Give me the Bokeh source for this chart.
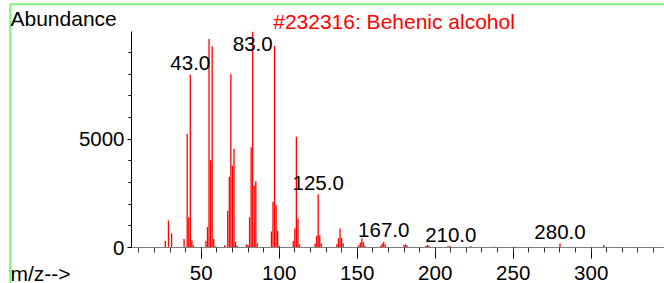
import numpy as np
from bokeh.plotting import figure
from bokeh.models import Range1d, SingleIntervalTicker
from bokeh.core.properties import value
from bokeh.embed import file_html
from bokeh.resources import INLINE

# ---- data ----
mz = [27, 29, 31, 39, 41, 42, 43, 44, 45,
      53, 54, 55, 56, 57, 58, 59,
      65, 67, 68, 69, 70, 71, 72, 73,
      79, 80, 81, 82, 83, 84, 85, 86,
      95, 96, 97, 98, 99, 100,
      109, 110, 111, 112, 113,
      123, 124, 125, 126, 127,
      137, 138, 139, 140, 141,
      151, 152, 153, 154, 155,
      165, 166, 167, 168,
      180, 181, 182,
      194, 195, 196,
      208, 209, 210,
      222, 223, 237, 238, 251, 252, 265,
      280, 308, 309]
abundance = [310, 1240, 660, 390, 5230, 1390, 7970, 330, 100,
             310, 950, 9620, 4030, 9280, 390, 60,
             100, 1690, 3260, 8000, 3770, 4550, 250, 80,
             150, 100, 1400, 4620, 9950, 2860, 3060, 200,
             740, 2110, 9300, 1950, 770, 80,
             300, 880, 5110, 1340, 150,
             190, 540, 2460, 560, 180,
             160, 430, 880, 440, 200,
             100, 230, 430, 250, 80,
             80, 190, 270, 140,
             110, 150, 90,
             70, 110, 80,
             50, 70, 50,
             40, 55, 40, 35, 30, 25, 20,
             185, 110, 30]
label_mz = [43, 83, 125, 167, 210, 280]
title_text = "#232316: Behenic alcohol"
y_title = "Abundance"
x_title = "m/z-->"

# ---- layout / style constants ----
FONT = "Liberation Sans"
W, H = 664, 283
PL, PR, PT, PB = 131, 664, 31, 247          # plot box in canvas pixels
XMIN, XMAX = 5.3, 347.0                     # data range of the plot box
YMIN, YMAX = 0.0, 9963.0
LABEL_CAP = 8850
TEXT_LIFT = -6.5                            # baseline correction for text glyphs (px)
FRAME_L, FRAME_T = 9.8, 3.7                 # light green page frame corner (px)

kx = (XMAX - XMIN) / (PR - PL)
ky = (YMAX - YMIN) / (PB - PT)
def px_x(px):
    return XMIN + (px - PL) * kx
def px_y(py):
    return YMIN + (PB - py) * ky

p = figure(width=W, height=H, title=None,
           x_range=Range1d(px_x(0), px_x(W)), y_range=Range1d(px_y(H), px_y(0)),
           output_backend="svg", toolbar_location=None,
           min_border=0, min_border_left=0, min_border_right=0,
           min_border_top=0, min_border_bottom=0)
p.background_fill_color = "white"
p.border_fill_color = "white"
p.outline_line_color = None
p.grid.visible = False

# light green page frame (top and left edges only)
p.line(x=[px_x(FRAME_L), px_x(FRAME_L), px_x(W + 10)],
       y=[px_y(H + 10), px_y(FRAME_T), px_y(FRAME_T)],
       line_color="#80F080", line_width=2)

# spectrum sticks
p.segment(x0=mz, y0=[0] * len(mz), x1=mz, y1=abundance,
          line_color="#FF0000", line_width=1.3)

# peak labels
ab = dict(zip(mz, abundance))
label_y = [min(ab[m], LABEL_CAP) for m in label_mz]
label_txt = [f"{m:.1f}" for m in label_mz]
p.text(x=label_mz, y=label_y, text=label_txt, text_align="center",
       text_baseline="alphabetic", y_offset=-5 + TEXT_LIFT,
       text_font=value(FONT), text_font_size="20.5px", text_color="black")

# header / footer texts
p.text(x=[px_x(10), px_x(272.7), px_x(10)], y=[px_y(24), px_y(27), px_y(279)],
       text=[y_title, title_text, x_title],
       text_color=["black", "#FF0000", "black"],
       text_align="left", text_baseline="alphabetic", y_offset=TEXT_LIFT,
       text_font=value(FONT), text_font_size="21px")

# axes fixed at the plot box edges
xa = p.xaxis[0]
xa.fixed_location = YMIN
xa.bounds = (XMIN, XMAX)
xa.ticker = SingleIntervalTicker(interval=50, num_minor_ticks=5)
xa.axis_line_color = "#808080"
xa.major_tick_line_color = "black"
xa.minor_tick_line_color = "#303030"
xa.major_tick_out = 11
xa.major_tick_in = 0
xa.minor_tick_out = 5
xa.minor_tick_in = 0
xa.major_label_standoff = 7
xa.major_label_text_font = FONT
xa.major_label_text_font_size = "20.5px"
xa.major_label_text_color = "black"

ya = p.yaxis[0]
ya.fixed_location = XMIN
ya.bounds = (YMIN, YMAX)
ya.ticker = SingleIntervalTicker(interval=5000, num_minor_ticks=5)
ya.axis_line_color = "black"
ya.major_tick_line_color = "black"
ya.minor_tick_line_color = "black"
ya.major_tick_out = 4
ya.major_tick_in = 0
ya.minor_tick_out = 3
ya.minor_tick_in = 0
ya.major_label_standoff = 3
ya.major_label_text_font = FONT
ya.major_label_text_font_size = "20.5px"
ya.major_label_text_color = "black"

open("out.html", "w").write(file_html(p, INLINE))
